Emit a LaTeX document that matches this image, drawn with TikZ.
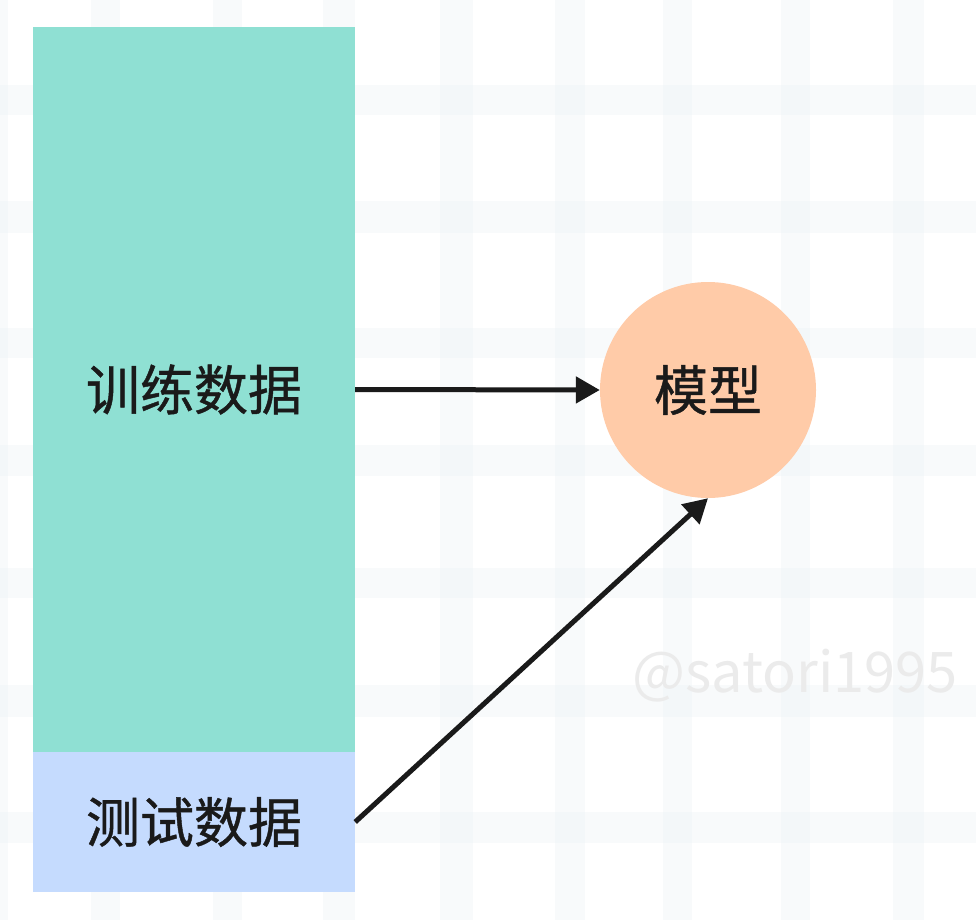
\documentclass[tikz,border=0pt]{standalone}
\usepackage{fontspec}
\newfontfamily\cjk[FakeBold=0.8]{Noto Sans CJK SC}
\newfontfamily\wmfont{Noto Sans CJK SC}
\usetikzlibrary{arrows.meta}
\definecolor{teal1}{HTML}{8FE0D3}
\definecolor{blue1}{HTML}{C5DBFE}
\definecolor{peach}{HTML}{FFCBA8}
\definecolor{ink}{HTML}{1A1A1A}
\definecolor{band}{HTML}{EBF2F5}
\definecolor{wm}{HTML}{EBEBEB}
\tikzset{
  bandfill/.style={fill=band, fill opacity=0.32, draw=none},
  datablock/.style={rectangle, draw=none, inner sep=0pt, minimum width=322pt, font=\cjk\fontsize{54}{60}\selectfont, text=ink},
  modelnode/.style={circle, fill=peach, draw=none, minimum size=216pt, inner sep=0pt, font=\cjk\fontsize{54}{60}\selectfont, text=ink},
  conn/.style={draw=ink, line width=5pt, -{Triangle[length=24pt,width=26pt]}}
}
\begin{document}
\begin{tikzpicture}[x=1pt,y=-1pt]
\useasboundingbox (0,0) rectangle (976,920);
\fill[white] (0,0) rectangle (976,920);
% faint background bands
\foreach \a/\b in {0/8,91/120,213/242,323/355,440/473,555/585,663/692,781/810,893/924}
  \fill[bandfill] (\a,0) rectangle (\b,920);
\foreach \a/\b in {85/115,201/233,328/358,445/476,568/598,685/717,812/843}
  \fill[bandfill] (0,\a) rectangle (976,\b);
% watermark
\node[anchor=west, inner sep=0pt, text=wm, font=\wmfont\fontsize{56}{60}\selectfont] (wmark) at (632,676) {@satori1995};
% blocks
\node[datablock, fill=teal1, minimum height=725pt] (train) at (194,389.5) {训练数据};
\node[datablock, fill=blue1, minimum height=140pt] (test) at (194,822) {测试数据};
\node[modelnode] (model) at (708,390) {模型};
% connectors
\draw[conn] (train.east) -- (model.west);
\draw[conn] (test.east) -- (model.south);
\end{tikzpicture}
\end{document}
